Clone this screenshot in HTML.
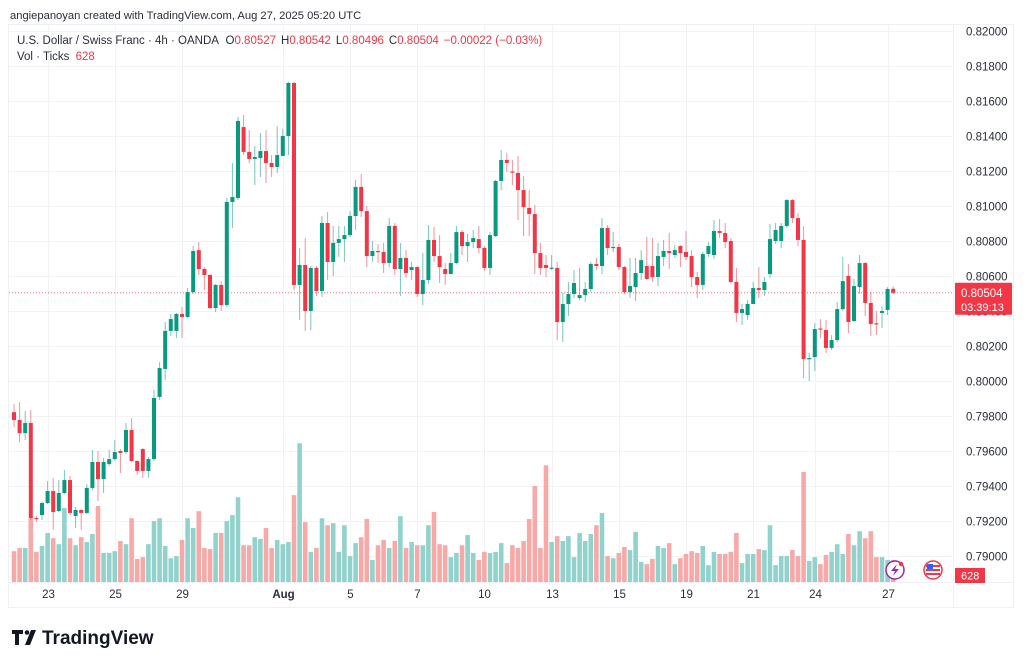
<!DOCTYPE html>
<html><head><meta charset="utf-8"><style>
html,body{margin:0;padding:0;background:#fff;width:1024px;height:665px;overflow:hidden;font-family:"Liberation Sans",sans-serif}
svg text{font-family:"Liberation Sans",sans-serif}
</style></head><body>
<svg id="chart" width="1024" height="665" viewBox="0 0 1024 665">
<rect x="0" y="0" width="1024" height="665" fill="#fff"/>
<text x="10" y="19" font-size="11.2" fill="#2a2e39">angiepanoyan created with TradingView.com, Aug 27, 2025 05:20 UTC</text>
<rect x="8.5" y="24.5" width="1005" height="583" fill="none" stroke="#eef0f3"/>
<g id="grid"></g>
<g id="vols"></g>
<g id="candles"></g>
<g id="yaxis"></g>
<g id="xaxis"></g>
<text x="17" y="44" font-size="11.5" fill="#2a2e39">U.S. Dollar / Swiss Franc · 4h · OANDA <tspan dx="4">O</tspan><tspan fill="#f23645">0.80527</tspan><tspan dx="5">H</tspan><tspan fill="#f23645">0.80542</tspan><tspan dx="5">L</tspan><tspan fill="#f23645">0.80496</tspan><tspan dx="5">C</tspan><tspan fill="#f23645">0.80504</tspan><tspan dx="5" fill="#f23645">−0.00022 (−0.03%)</tspan></text>
<text x="17" y="60" font-size="11.5" fill="#2a2e39">Vol · Ticks <tspan dx="3" fill="#f23645">628</tspan></text>
<g><circle cx="895" cy="570" r="9" fill="#fff" stroke="#9c27b0" stroke-width="1.5"/><path d="M897 564 L891 571 L895 571 L893 576 L899 569 L895 569 Z" fill="#9c27b0"/><circle cx="901" cy="564" r="2.2" fill="#f23645"/></g>
<g><circle cx="933" cy="570" r="9" fill="#fff" stroke="#f23645" stroke-width="1.5"/><rect x="926" y="565" width="14" height="2" fill="#f23645"/><rect x="926" y="569" width="14" height="2" fill="#f23645"/><rect x="926" y="573" width="14" height="2" fill="#f23645"/><rect x="927" y="564" width="6" height="5" fill="#2962ff"/></g>
<g><path d="M12 630 h11 v4 h-4 v11 h-4 v-11 h-3z" fill="#131722"/><circle cx="27" cy="632.5" r="2.3" fill="#131722"/><path d="M31 630 h5 l-6 15 h-5z" fill="#131722"/><text x="42" y="644" font-size="19" font-weight="bold" fill="#131722">TradingView</text></g>
</svg>
<script>
const tickPrices=[82000,81800,81600,81400,81200,81000,80800,80600,80400,80200,80000,79800,79600,79400,79200,79000];
const dateLabels=["23","25","29","Aug","5","7","10","13","15","19","21","24","27"];
const dateIndex=[6,18,30,48,60,72,84,96,108,120,132,143,156];
const opens=[79822,79777,79702,79760,79217,79234,79303,79371,79257,79360,79434,79229,79263,79246,79389,79537,79440,79526,79554,79600,79594,79720,79543,79611,79486,79554,79909,80069,80286,80286,80383,80366,80508,80748,80640,80606,80417,80549,80434,81023,81046,81451,81309,81269,81274,81314,81246,81223,81286,81400,81703,80549,80663,80400,80646,80514,80903,80680,80789,80811,80834,80943,81109,80971,80714,80743,80737,80674,80886,80640,80703,80634,80651,80497,80577,80806,80714,80640,80611,80674,80851,80771,80794,80811,80760,80646,80828,81143,81263,81197,81189,81091,80989,80954,80731,80663,80644,80646,80337,80440,80497,80474,80491,80526,80669,80657,80874,80766,80766,80651,80508,80537,80617,80657,80657,80594,80709,80743,80720,80771,80737,80714,80594,80549,80726,80720,80857,80846,80800,80566,80389,80377,80440,80531,80520,80611,80800,80800,80886,81034,80931,80806,80126,80137,80300,80291,80189,80234,80411,80600,80343,80537,80674,80446,80330,80389,80406,80527];
const closes=[79777,79702,79760,79217,79211,79303,79371,79251,79360,79434,79246,79263,79246,79389,79537,79440,79537,79554,79594,79589,79720,79543,79486,79486,79554,79903,80074,80286,80354,80383,80366,80508,80743,80640,80606,80417,80549,80434,81023,81051,81486,81309,81269,81280,81314,81246,81223,81291,81400,81703,80549,80663,80400,80646,80514,80903,80680,80789,80811,80834,80943,81109,80971,80714,80743,80737,80674,80886,80640,80703,80617,80651,80497,80577,80806,80714,80651,80611,80674,80851,80771,80794,80817,80760,80646,80834,81143,81263,81246,81194,81091,80994,80954,80731,80646,80646,80648,80337,80440,80497,80560,80491,80526,80669,80657,80874,80760,80766,80651,80508,80543,80617,80691,80583,80594,80714,80743,80731,80748,80731,80709,80594,80549,80726,80771,80857,80846,80794,80566,80389,80411,80440,80531,80520,80566,80811,80863,80886,81034,80931,80806,80126,80131,80297,80297,80189,80234,80411,80571,80337,80543,80674,80446,80326,80326,80400,80526,80504];
const highs=[79868,79880,79828,79834,79229,79309,79428,79446,79434,79491,79457,79280,79269,79411,79606,79600,79560,79606,79663,79611,79760,79788,79549,79617,79566,79949,80109,80337,80383,80389,80423,80531,80771,80794,80651,80611,80554,80571,81046,81246,81509,81520,81434,81343,81417,81434,81291,81457,81440,81709,81709,80760,80817,80657,80657,80943,80966,80886,80886,80886,80971,81149,81183,81000,80800,80783,80789,80931,80903,80789,80748,80680,80657,80731,80891,80880,80834,80674,80731,80886,80863,80840,80863,80886,80771,80851,81149,81320,81303,81263,81286,81171,81091,81006,80789,80720,80720,80680,80503,80566,80634,80646,80566,80680,80703,80931,80891,80851,80783,80657,80703,80703,80748,80823,80817,80789,80806,80846,80777,80777,80857,80748,80623,80737,80794,80920,80926,80903,80817,80646,80440,80463,80566,80651,80594,80897,80903,80903,81040,81040,80960,80886,80160,80331,80354,80349,80263,80451,80709,80669,80583,80720,80680,80509,80400,80429,80537,80542];
const lows=[79737,79651,79663,79206,79194,79206,79297,79149,79251,79354,79234,79160,79149,79240,79377,79314,79360,79514,79543,79474,79583,79537,79463,79446,79446,79543,79891,80006,80257,80246,80246,80360,80497,80606,80520,80411,80394,80400,80423,80874,81034,81291,81246,81120,81166,81131,81166,81189,81291,81291,80520,80349,80286,80291,80486,80480,80577,80600,80709,80680,80823,80863,80937,80651,80680,80674,80617,80651,80606,80486,80589,80577,80480,80434,80554,80680,80560,80549,80611,80669,80720,80680,80760,80731,80629,80606,80823,81091,81194,81120,80920,80828,80828,80611,80606,80594,80634,80234,80223,80371,80474,80463,80451,80509,80634,80611,80720,80737,80634,80497,80474,80457,80577,80577,80566,80543,80657,80640,80703,80651,80691,80537,80474,80520,80709,80697,80817,80760,80560,80337,80320,80349,80463,80474,80486,80589,80783,80760,80874,80903,80771,80017,80000,80057,80246,80160,80177,80223,80400,80274,80337,80497,80371,80257,80263,80303,80377,80496];
const volumes=[880,970,970,1820,860,1030,1400,1250,1080,2110,1250,1050,1280,1140,1370,2170,830,830,880,1170,1080,1820,660,710,1080,1740,1820,1030,680,740,1200,1820,1540,2020,970,940,1400,1400,1740,1910,2420,1050,1050,1280,1230,1540,970,1200,1080,1140,2480,3960,1710,860,970,1820,1620,1680,860,1620,740,1110,1280,1800,630,1050,1200,970,1170,1880,970,1140,1050,1050,1620,2000,1080,1050,710,830,1050,1340,830,630,860,830,860,1110,540,1050,970,1170,1800,2740,970,3330,1140,1310,1170,1310,710,1400,1170,1370,1620,1970,740,680,830,1000,910,1430,570,510,660,1030,970,1110,510,680,800,880,830,1030,480,860,800,800,860,1400,540,800,800,940,910,1620,480,740,740,910,740,3140,600,710,510,770,860,1080,800,1370,1050,1450,1250,1450,710,710,630,628];
const lastPrice=80504;

const NS="http://www.w3.org/2000/svg";
function mk(tag,attrs,parent){const e=document.createElementNS(NS,tag);for(const k in attrs)e.setAttribute(k,attrs[k]);parent.appendChild(e);return e;}
const X0=14,STEP=5.6;
function xOf(i){return X0+STEP*i;}
function yOf(p){return 31+(82000-p)*0.175;}
const VBASE=582,VSCALE=22/628;
function vOf(v){return v*VSCALE;}
const UP="#089981",DN="#f23645";
const grid=document.getElementById('grid'),cg=document.getElementById('candles'),vg=document.getElementById('vols'),ya=document.getElementById('yaxis'),xa=document.getElementById('xaxis');

tickPrices.forEach(p=>{
  const y=Math.round(yOf(p))+0.5;
  const l=mk('line',{x1:9,x2:953,y1:y,y2:y,stroke:'#f2f3f5'},grid);
  
  
  const t=mk('text',{x:966,y:y+4,'font-size':11.5,fill:'#2a2e39'},ya);
  t.textContent=(p/100000).toFixed(5);
  
  
});
dateLabels.forEach((d,k)=>{
  const x=Math.round(xOf(dateIndex[k]))+0.5;
  const l=mk('line',{x1:x,x2:x,y1:25,y2:582,stroke:'#f2f3f5'},grid);
  
  
  const t=mk('text',{x:x,y:598,'font-size':11.5,fill:'#2a2e39','text-anchor':'middle','font-weight':d==='Aug'?'bold':'normal'},xa);
  t.textContent=d;
  
  
});
mk('line',{x1:953.5,x2:953.5,y1:25,y2:607,stroke:'#eef0f3'},grid);
mk('line',{x1:9,x2:1013,y1:582.5,y2:582.5,stroke:'#eef0f3'},grid);

volumes.forEach((v,i)=>{
  const up=closes[i]>=opens[i];
  const h=vOf(v);
  const r=mk('rect',{x:xOf(i)-2.3,y:VBASE-h,width:4.6,height:h,fill:up?'#92d2cc':'#f7a9a7'},vg);
  
  
});
closes.forEach((c,i)=>{
  const o=opens[i],up=c>=o,col=up?UP:DN,x=xOf(i);
  const w=mk('line',{x1:x,x2:x,y1:yOf(highs[i]),y2:yOf(lows[i]),stroke:col,'stroke-width':1,'stroke-opacity':0.55},cg);
  
  
  const y1=yOf(Math.max(o,c)),y2=yOf(Math.min(o,c));
  const b=mk('rect',{x:x-2,y:y1,width:4,height:Math.max(1.2,y2-y1),fill:col},cg);
  
  
});
const ly=yOf(lastPrice);
const pl=mk('line',{x1:9,x2:953,y1:ly,y2:ly,stroke:'#f23645','stroke-width':1,'stroke-dasharray':'1 2','stroke-opacity':0.7},grid);


const pb=mk('rect',{x:955,y:ly-10,width:57,height:32,fill:'#f23645',rx:1},ya);


const pt=mk('text',{x:961,y:ly+4,'font-size':11.5,fill:'#fff'},ya);
pt.textContent=(lastPrice/100000).toFixed(5);


const ct=mk('text',{x:961,y:ly+18,'font-size':11,fill:'#fff'},ya);
ct.textContent='03:39:13';


const vb=mk('rect',{x:955,y:568,width:30,height:15,fill:'#f23645'},ya);


const vt=mk('text',{x:961,y:579.5,'font-size':11,fill:'#fff'},ya);
vt.textContent=String(volumes[volumes.length-1]);


</script>
</body></html>
